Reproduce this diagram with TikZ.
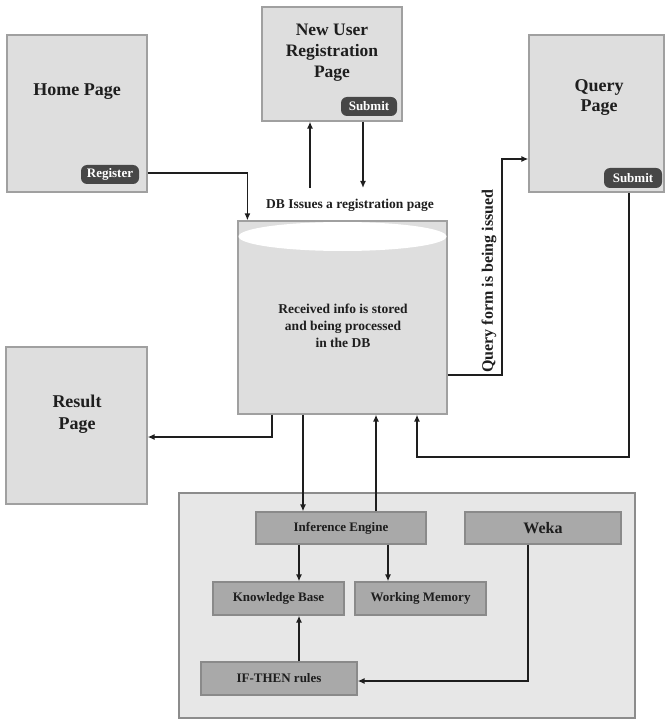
\documentclass[tikz,border=0pt]{standalone}
\usepackage{fontspec}
\setmainfont{Liberation Serif}
\usetikzlibrary{arrows.meta,calc,shapes.geometric}
\definecolor{pagefill}{HTML}{DEDEDE}
\definecolor{pageline}{HTML}{A0A0A0}
\definecolor{outerfill}{HTML}{E7E7E7}
\definecolor{outerline}{HTML}{8C8C8C}
\definecolor{innerfill}{HTML}{A9A9A9}
\definecolor{innerline}{HTML}{8A8A8A}
\definecolor{btnfill}{HTML}{474747}
\definecolor{ink}{HTML}{1E1E1E}
\tikzset{
  pagebox/.style={draw=pageline, fill=pagefill, line width=1.2pt, inner sep=0pt},
  outerbox/.style={draw=outerline, fill=outerfill, line width=2pt, inner sep=0pt},
  innerbox/.style={draw=innerline, fill=innerfill, line width=1.2pt, inner sep=0pt,
     font=\fontsize{13}{15}\selectfont\bfseries, text=ink},
  btn/.style={fill=btnfill, rounded corners=6pt, inner sep=0pt, text=white,
     font=\fontsize{13}{15}\selectfont\bfseries},
  bigtxt/.style={font=\fontsize{18}{21}\selectfont\bfseries, text=ink, align=center, inner sep=0pt},
  midtxt/.style={font=\fontsize{13.5}{17}\selectfont\bfseries, text=ink, align=center, inner sep=0pt},
  arr/.style={draw=ink, line width=1.4pt, -{Latex[length=7pt,width=6pt]}},
  ln/.style={draw=ink, line width=1.4pt},
}
\begin{document}
\begin{tikzpicture}[x=1pt,y=-1pt]
\useasboundingbox (0,0) rectangle (665,719);
% page boxes
\node[pagebox, minimum width=140pt, minimum height=157pt] (home) at (77,113.5) {};
\node[bigtxt] (hometxt) at (77,92) {Home Page};
\node[btn, minimum width=58pt, minimum height=19pt] (reg) at (110,174.5) {Register};

\node[pagebox, minimum width=140pt, minimum height=114pt] (newu) at (332,64) {};
\node[bigtxt, font=\fontsize{17.5}{21}\selectfont\bfseries] (newutxt) at (332,53) {New User\\Registration\\Page};
\node[btn, minimum width=56pt, minimum height=19pt] (sub1) at (369,106.5) {Submit};

\node[pagebox, minimum width=135pt, minimum height=157pt] (query) at (596.5,113.5) {};
\node[bigtxt, font=\fontsize{18}{20}\selectfont\bfseries] (querytxt) at (599,98) {Query\\Page};
\node[btn, minimum width=58pt, minimum height=20pt] (sub2) at (633,178) {Submit};

\node[pagebox, minimum width=141pt, minimum height=157pt] (result) at (76.5,425.5) {};
\node[bigtxt, font=\fontsize{18}{22}\selectfont\bfseries] (resulttxt) at (77,414) {Result\\Page};

% database
\node[pagebox, minimum width=209pt, minimum height=193pt] (db) at (342.5,317.5) {};
\fill[white] (342.5,236.5) ellipse [x radius=104pt, y radius=14.5pt];
\node[midtxt] (dbtxt) at (343,326) {Received info is stored\\and being processed\\in the DB};
\node[midtxt, font=\fontsize{13.5}{16}\selectfont\bfseries] (dblabel) at (350,205) {DB Issues a registration page};

% expert system block
\node[outerbox, minimum width=456pt, minimum height=225pt] (outer) at (407,605.5) {};
\node[innerbox, minimum width=170pt, minimum height=32pt] (ie) at (341,528) {Inference Engine};
\node[innerbox, minimum width=156pt, minimum height=32pt, font=\fontsize{16}{18}\selectfont\bfseries] (weka) at (543,528) {Weka};
\node[innerbox, minimum width=131pt, minimum height=33pt] (kb) at (278.5,598.5) {Knowledge Base};
\node[innerbox, minimum width=131pt, minimum height=33pt] (wm) at (420.5,598.5) {Working Memory};
\node[innerbox, minimum width=156pt, minimum height=33pt] (ift) at (279,678.5) {IF-THEN rules};

% connectors
\coordinate (upstart) at (310,188);
\coordinate (downend) at (363,188);
\draw[arr] (home.east |- 0,173) -| ([xshift=10pt]db.north west);
\draw[arr] (upstart) -- (upstart |- newu.south);
\draw[arr] (downend |- newu.south) -- (downend);
\draw[arr] (db.east |- 0,375) -| (502,159) -- (query.west |- 0,159);
\node[font=\fontsize{16}{18}\selectfont\bfseries, text=ink, rotate=90, inner sep=0pt] (qlabel) at (489,281) {Query form is being issued};
\draw[arr] (629,0 |- query.south) -- (629,457) -| (417,0 |- db.south);
\draw[arr] (272,0 |- db.south) |- (result.east |- 0,437);
\draw[arr] (303,0 |- db.south) -- (303,0 |- ie.north);
\draw[arr] (376,0 |- ie.north) -- (376,0 |- db.south);
\draw[arr] (299,0 |- ie.south) -- (299,0 |- kb.north);
\draw[arr] (388,0 |- ie.south) -- (388,0 |- wm.north);
\draw[arr] (299,0 |- ift.north) -- (299,0 |- kb.south);
\draw[arr] (528,0 |- weka.south) |- (ift.east |- 0,681);
\end{tikzpicture}
\end{document}
